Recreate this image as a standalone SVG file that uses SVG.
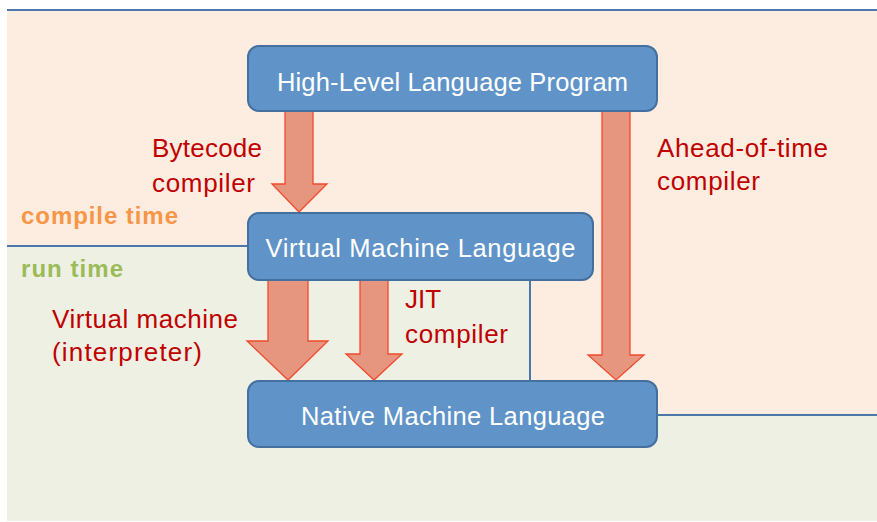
<svg xmlns="http://www.w3.org/2000/svg" width="877" height="522" viewBox="0 0 877 522">
<style>
.box{fill:#6094c8;stroke:#44709f;stroke-width:2}
.bt{font-family:"Liberation Sans",Arial,sans-serif;font-size:25.5px;fill:#ffffff;text-anchor:middle}
.lbl{font-family:"Liberation Sans",Arial,sans-serif;font-size:26px;fill:#c00000}
.zone{font-family:"Liberation Sans",Arial,sans-serif;font-size:24px;font-weight:bold}
.arr{fill:#e6957e;stroke:#f04a2e;stroke-width:1.3;stroke-linejoin:miter}
.div{stroke:#4a78ab;stroke-width:2;fill:none}
</style>
<rect x="0" y="0" width="877" height="522" fill="#ffffff"/>
<g id="zones">
<rect x="7" y="10" width="870" height="511" fill="#fdede1"/>
<polygon points="7,246 260,246 260,280 530,280 530,400 877,400 877,415 877,521 7,521" fill="#eef0e3"/>
<polygon points="530,280 877,280 877,415 530,415" fill="#fdede1"/>
<line class="div" x1="7" y1="10" x2="877" y2="10"/>
<line class="div" x1="7" y1="246" x2="260" y2="246"/>
<line class="div" x1="530" y1="278" x2="530" y2="383"/>
<line class="div" x1="650" y1="415" x2="877" y2="415"/>
<text class="zone" x="21" y="224" fill="#f79646" textLength="157">compile time</text>
<text class="zone" x="21" y="277" fill="#9bbb59" textLength="102">run time</text>
</g>
<g id="connectors">
<g id="bytecode-compiler">
<polygon class="arr" points="285,111 313,111 313,184 327,184 299,212 272,184 285,184"/>
<text class="lbl" x="152" y="157" textLength="110">Bytecode</text>
<text class="lbl" x="152" y="192" textLength="103">compiler</text>
</g>
<g id="aot-compiler">
<polygon class="arr" points="602,111 630,111 630,355 644,355 616,380 588,355 602,355"/>
<text class="lbl" x="657" y="157" textLength="171">Ahead-of-time</text>
<text class="lbl" x="657" y="190" textLength="103">compiler</text>
</g>
<g id="vm-interpreter">
<polygon class="arr" points="268,280 308,280 308,341 328,341 288,380 247,341 268,341"/>
<text class="lbl" x="52" y="328" textLength="186">Virtual machine</text>
<text class="lbl" x="52" y="361" textLength="150">(interpreter)</text>
</g>
<g id="jit-compiler">
<polygon class="arr" points="360,280 388,280 388,354 402,354 374,380 346,354 360,354"/>
<text class="lbl" x="405" y="308">JIT</text>
<text class="lbl" x="405" y="343" textLength="103">compiler</text>
</g>
</g>
<g id="hll">
<rect class="box" x="248" y="46" width="409" height="65" rx="11"/>
<text class="bt" x="452.5" y="91" textLength="351">High-Level Language Program</text>
</g>
<g id="vml">
<rect class="box" x="248" y="213" width="345" height="67" rx="11"/>
<text class="bt" x="420.5" y="257" textLength="310">Virtual Machine Language</text>
</g>
<g id="nml">
<rect class="box" x="248" y="381" width="409" height="66" rx="11"/>
<text class="bt" x="453" y="425" textLength="304">Native Machine Language</text>
</g>
</svg>
